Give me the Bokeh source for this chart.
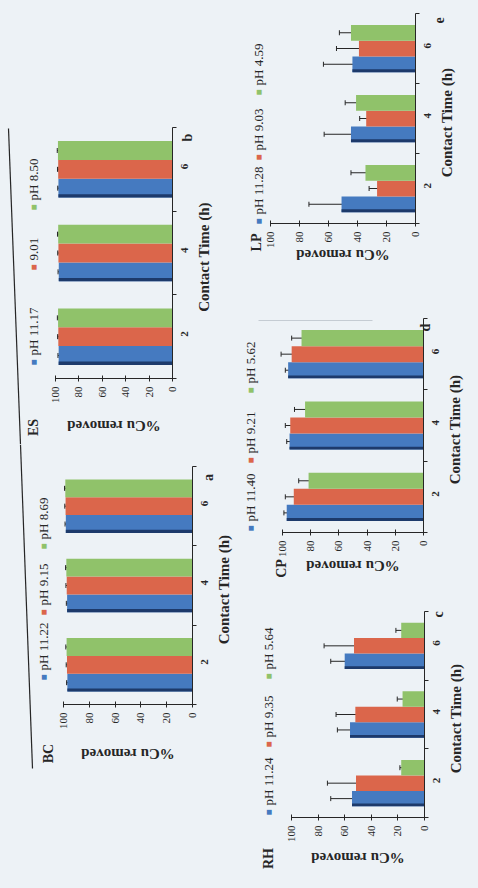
from math import pi

import numpy as np
from bokeh.embed import file_html
from bokeh.layouts import column, row
from bokeh.models import (Arrow, ColumnDataSource, FixedTicker, Label, LinearAxis,
                          Range1d, Spacer, TeeHead, Whisker)
from bokeh.plotting import figure
from bokeh.resources import INLINE

# ---- data: % Cu removed vs contact time, three solution pH per adsorbent ----
TIMES = [2, 4, 6]

BC_LABELS = ["pH 11.22", "pH 9.15", "pH 8.69"]
BC_HIGH = [97.0, 97.2, 98.2]
BC_MID = [97.3, 97.5, 98.4]
BC_LOW = [97.6, 97.8, 98.6]
BC_HIGH_ERR = [0.6, 0.6, 0.6]
BC_MID_ERR = [0.6, 0.6, 0.6]
BC_LOW_ERR = [0.6, 0.6, 0.6]

ES_LABELS = ["pH 11.17", "9.01", "pH 8.50"]
ES_HIGH = [97.3, 97.2, 97.5]
ES_MID = [97.6, 97.5, 97.7]
ES_LOW = [97.8, 97.7, 97.9]
ES_HIGH_ERR = [0.6, 0.6, 0.6]
ES_MID_ERR = [0.6, 0.6, 0.6]
ES_LOW_ERR = [0.6, 0.6, 0.6]

RH_LABELS = ["pH 11.24", "pH 9.35", "pH 5.64"]
RH_HIGH = [54.5, 56.0, 60.0]
RH_MID = [51.5, 52.0, 53.0]
RH_LOW = [17.5, 16.5, 17.5]
RH_HIGH_ERR = [16.0, 9.5, 10.5]
RH_MID_ERR = [21.5, 14.5, 22.5]
RH_LOW_ERR = [1.0, 4.0, 4.0]

CP_LABELS = ["pH 11.40", "pH 9.21", "pH 5.62"]
CP_HIGH = [97.0, 95.0, 96.0]
CP_MID = [92.0, 94.5, 93.5]
CP_LOW = [81.5, 84.0, 86.5]
CP_HIGH_ERR = [2.0, 2.0, 2.0]
CP_MID_ERR = [6.0, 3.5, 7.5]
CP_LOW_ERR = [7.0, 7.5, 7.0]

LP_LABELS = ["pH 11.28", "pH 9.03", "pH 4.59"]
LP_HIGH = [51.0, 44.5, 43.5]
LP_MID = [26.5, 34.0, 39.0]
LP_LOW = [34.5, 41.0, 44.5]
LP_HIGH_ERR = [22.5, 18.5, 20.0]
LP_MID_ERR = [5.5, 4.5, 15.5]
LP_LOW_ERR = [10.0, 7.5, 8.0]

VALUE_TICKS = [0, 20, 40, 60, 80, 100]
VALUE_TITLE = "%Cu removed"
TIME_TITLE = "Contact Time (h)"

# ---- style ----
BG = "#edf2f6"
INK = "#262626"
BLUE = "#457ac0"
BLUE_EDGE = "#1d3a6b"
RED = "#db664b"
GREEN = "#90c26a"
SERIF = "Liberation Serif"
BAR = 0.45


def panel(name, letter, labels, high, mid, low, ehigh, emid, elow, g):
    """One rotated bar panel; g holds where the panel sits on the page."""
    x0, y0, w, h = g["box"]
    ppx = (g["xzero"] - g["x100"]) / 100.0
    ppy = (g["ybot"] - g["ytop"]) / 6.0

    def dx(px):
        return (g["xzero"] - px) / ppx

    def dy(py):
        return 1 + (g["ybot"] - py) / ppy

    p = figure(width=w, height=h, output_backend="svg", toolbar_location=None,
               x_range=Range1d(start=dx(x0), end=dx(x0 + w)),
               y_range=Range1d(start=dy(y0 + h), end=dy(y0)),
               x_axis_location=None, y_axis_location=None,
               min_border=0, min_border_left=0, min_border_right=0,
               min_border_top=0, min_border_bottom=0,
               background_fill_color=BG, border_fill_color=BG,
               outline_line_color=None)
    p.xgrid.visible = False
    p.ygrid.visible = False

    t = np.array(TIMES, dtype=float)
    for vals, errs, off, col in [(high, ehigh, -BAR, BLUE),
                                 (mid, emid, 0.0, RED),
                                 (low, elow, BAR, GREEN)]:
        v = np.array(vals, dtype=float)
        e = np.array(errs, dtype=float)
        src = ColumnDataSource(dict(y=t + off, v=v, lo=v - e, hi=v + e,
                                    edge=t + off - BAR / 2 + 0.04))
        p.hbar(y="y", left=0, right="v", height=BAR, source=src,
               fill_color=col, line_color=None)
        if col == BLUE:
            p.hbar(y="edge", left=0, right="v", height=0.08, source=src,
                   fill_color=BLUE_EDGE, line_color=None)
        p.add_layout(Whisker(source=src, base="y", lower="lo", upper="hi",
                             dimension="width", line_color=INK, line_width=1,
                             upper_head=TeeHead(size=5, line_color=INK, line_width=1),
                             lower_head=TeeHead(size=5, line_color=INK, line_width=1)))

    # value axis, pinned to the baseline row of the panel
    xa = LinearAxis(fixed_location=1)
    xa.ticker = FixedTicker(ticks=VALUE_TICKS)
    xa.bounds = (0, 100)
    xa.axis_line_color = INK
    xa.major_tick_line_color = INK
    xa.major_tick_in = 3
    xa.major_tick_out = 3
    xa.minor_tick_line_color = None
    xa.major_label_orientation = pi / 2
    xa.major_label_standoff = 5
    xa.major_label_text_font = SERIF
    xa.major_label_text_font_size = "11px"
    xa.major_label_text_color = INK
    p.add_layout(xa, "below")

    # contact-time axis, pinned to zero removal
    ya = LinearAxis(fixed_location=0)
    ya.ticker = FixedTicker(ticks=TIMES, minor_ticks=[1, 3, 5, 7])
    ya.bounds = (1, 7)
    ya.axis_line_color = INK
    ya.major_tick_in = 0
    ya.major_tick_out = 0
    ya.minor_tick_line_color = INK
    ya.minor_tick_in = 0
    ya.minor_tick_out = 4
    ya.major_label_orientation = pi / 2
    ya.major_label_standoff = 8
    ya.major_label_text_font = SERIF
    ya.major_label_text_font_style = "bold"
    ya.major_label_text_font_size = "11px"
    ya.major_label_text_color = INK
    p.add_layout(ya, "right")

    def text(px, py, s, size, bold=True, align="center", color=INK):
        p.add_layout(Label(x=dx(px), y=dy(py), text=s, angle=pi / 2,
                           text_align=align, text_baseline="middle",
                           text_color=color, text_font=SERIF,
                           text_font_style="bold" if bold else "normal",
                           text_font_size=size))

    # axis titles (the value title reads upside down on the turned page)
    p.add_layout(Label(x=50, y=dy(g["value_title_y"]), text=VALUE_TITLE,
                       angle=pi, text_align="center", text_baseline="middle",
                       text_color=INK, text_font=SERIF, text_font_style="bold",
                       text_font_size="15px"))
    text(g["xzero"] + 31, (g["ytop"] + g["ybot"]) / 2 + 4, TIME_TITLE, "15px")

    # legend, written along the bars' direction
    for sq_y, s, col in zip(g["leg_y"], labels, [BLUE, RED, GREEN]):
        text(g["leg_x"], sq_y, "\u25a0", "10px", bold=False, color=col)
        text(g["leg_x"], sq_y - 7, s, "13px", bold=False, align="left")

    text(*g["name_xy"], name, "14px")
    text(*g["letter_xy"], letter, "14px")

    for (ax, ay), (bx, by), colr in g.get("rules", []):
        p.add_layout(Arrow(start=None, end=None, x_start=dx(ax), y_start=dy(ay),
                           x_end=dx(bx), y_end=dy(by), line_color=colr,
                           line_width=1.2))
    return p


es = panel("ES", "b", ES_LABELS, ES_HIGH, ES_MID, ES_LOW,
           ES_HIGH_ERR, ES_MID_ERR, ES_LOW_ERR,
           dict(box=(0, 108, 240, 336), x100=55, xzero=172, ytop=127, ybot=378,
                leg_x=33, leg_y=[362, 267, 207], name_xy=(33, 427),
                letter_xy=(187, 137), value_title_y=425,
                rules=[((8, 128), (20, 444), INK)]))
bc = panel("BC", "a", BC_LABELS, BC_HIGH, BC_MID, BC_LOW,
           BC_HIGH_ERR, BC_MID_ERR, BC_LOW_ERR,
           dict(box=(0, 444, 240, 332), x100=63, xzero=192, ytop=466, ybot=704,
                leg_x=43, leg_y=[677, 612, 546], name_xy=(48, 753),
                letter_xy=(208, 477), value_title_y=753,
                rules=[((20, 444), (32, 768), INK)]))
lp = panel("LP", "e", LP_LABELS, LP_HIGH, LP_MID, LP_LOW,
           LP_HIGH_ERR, LP_MID_ERR, LP_LOW_ERR,
           dict(box=(240, 0, 238, 272), x100=270, xzero=415, ytop=13, ybot=223,
                leg_x=258, leg_y=[221, 157, 92], name_xy=(256, 242),
                letter_xy=(438, 20), value_title_y=254))
cp = panel("CP", "d", CP_LABELS, CP_HIGH, CP_MID, CP_LOW,
           CP_HIGH_ERR, CP_MID_ERR, CP_LOW_ERR,
           dict(box=(240, 272, 238, 312), x100=282, xzero=423, ytop=318, ybot=532,
                leg_x=250, leg_y=[528, 460, 390], name_xy=(281, 568),
                letter_xy=(425, 327), value_title_y=565,
                rules=[((258, 320), (372, 320), "#c5ccd3")]))
rh = panel("RH", "c", RH_LABELS, RH_HIGH, RH_MID, RH_LOW,
           RH_HIGH_ERR, RH_MID_ERR, RH_LOW_ERR,
           dict(box=(240, 584, 238, 304), x100=291, xzero=424, ytop=611, ybot=817,
                leg_x=268, leg_y=[812, 744, 676], name_xy=(268, 858),
                letter_xy=(438, 614), value_title_y=857))

left = column(Spacer(width=240, height=108, styles={"background-color": BG}),
              es, bc,
              Spacer(width=240, height=112, styles={"background-color": BG}))
right = column(lp, cp, rh)
root = row(left, right, styles={"background-color": BG})

open("out.html", "w").write(file_html(root, INLINE, title="Cu removal"))
